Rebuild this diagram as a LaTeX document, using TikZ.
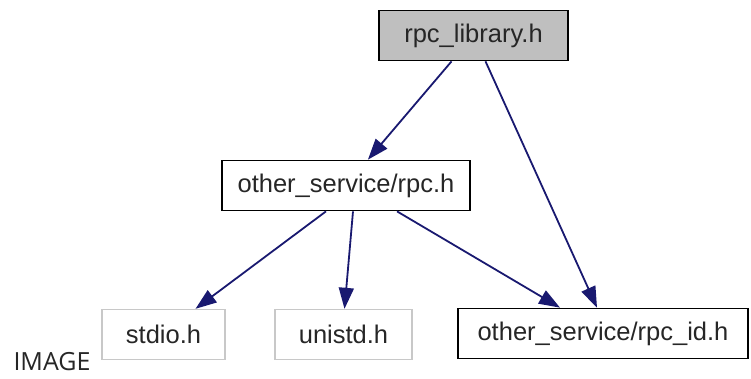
\documentclass[tikz,border=0pt]{standalone}
\usepackage{fontspec}
\setmainfont{Liberation Sans}
\newfontfamily\captionfont{Open Sans}
\usetikzlibrary{arrows.meta,positioning}
\definecolor{edgeblue}{HTML}{191970}
\definecolor{rootgray}{HTML}{BFBFBF}
\definecolor{extgray}{HTML}{C8C8C8}

\begin{document}
\begin{tikzpicture}[x=1pt,y=-1pt,
	header/.style={draw=black,line width=1.7pt,minimum height=50pt,inner sep=0pt,
		font=\fontsize{25.5}{30}\selectfont,text=black!85},
	sysheader/.style={header,draw=extgray,line width=1.4pt},
	dep/.style={draw=edgeblue,line width=1.8pt,-{Triangle[length=21pt,width=15pt]}}]
\useasboundingbox (0,0) rectangle (751,379);
\node (lib)[header,fill=rootgray,minimum width=189pt] at (473.5,35.5) {rpc\_library.h};
\node (rpc)[header,minimum width=248pt] at (346,185.5) {other\_service/rpc.h};
\node (stdio)[sysheader,minimum width=123pt] at (163.5,334.5) {stdio.h};
\node (unistd)[sysheader,minimum width=137pt] at (343.5,334.5) {unistd.h};
\node (rpcid)[header,minimum width=290pt] at (603,333.5) {other\_service/rpc\_id.h};
\node (img)[font=\captionfont\fontsize{25}{30}\selectfont,text=black!85,inner sep=0pt] at (52,362) {IMAGE};
% draw the connections
\draw[dep] (lib)--(rpc);
\draw[dep] ([xshift=12pt]lib.south)--([xshift=-6pt]rpcid.north);
\draw[dep] ([xshift=-20pt]rpc.south)--([xshift=32pt]stdio.north);
\draw[dep] ([xshift=7pt]rpc.south)--([xshift=1pt]unistd.north);
\draw[dep] ([xshift=51pt]rpc.south)--([xshift=-43pt]rpcid.north);
\end{tikzpicture}
\end{document}
